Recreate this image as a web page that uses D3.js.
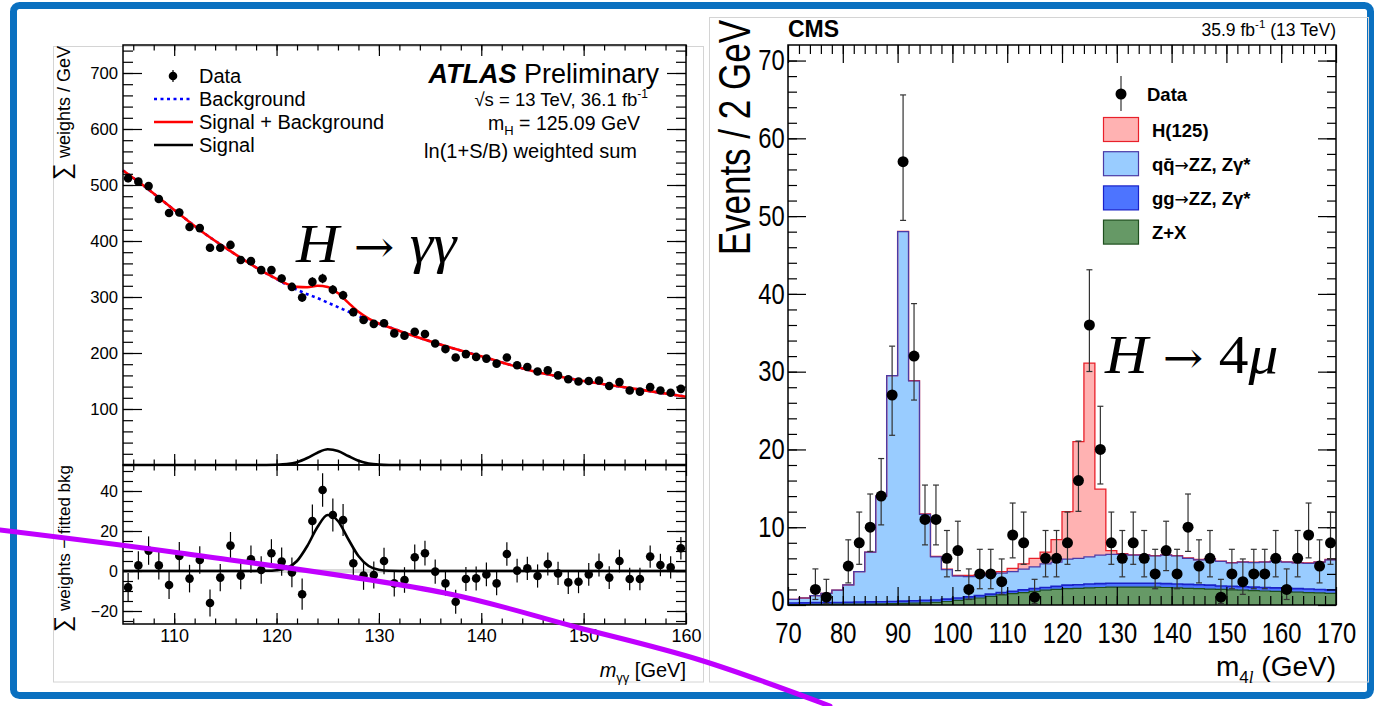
<!DOCTYPE html>
<html>
<head>
<meta charset="utf-8">
<script src="https://cdn.jsdelivr.net/npm/d3@7"></script>
<style>
  html, body { margin: 0; padding: 0; background: #fff; }
  svg { display: block; font-family: "Liberation Sans", Arial, sans-serif; }
</style>
</head>
<body>
<svg id="chart" width="1375" height="706"></svg>
<script>
// ---------- ATLAS H->yy (1 GeV bins, 105-160) ----------
const atlasMass = d3.range(105.5, 160, 1);
const atlasData = [512,506,498,475,450,451,425,423,388,388,393,366,364,348,348,333,318,299,327,333,
  313,303,273,259,252,253,235,231,238,234,217,207,192,198,193,190,181,192,178,175,
  167,169,160,153,149,150,151,141,148,133,131,139,133,129,136];
const atlasErr = [7.2,7.1,7.1,7.0,7.0,7.0,6.9,6.9,6.8,6.8,6.8,6.8,6.8,6.9,7.0,7.1,7.4,7.8,8.2,8.4,
  8.3,8.0,7.5,7.1,6.8,6.6,6.5,6.4,6.3,6.2,6.1,6.1,6.0,6.0,6.0,5.9,5.9,5.9,5.9,5.8,
  5.8,5.8,5.8,5.8,5.7,5.7,5.7,5.7,5.7,5.6,5.6,5.6,5.6,5.6,5.6];
const atlasResid = [-8.2,2.8,10.2,2.8,-7,7.5,-3.8,5.5,-16,-3.3,12.7,-2.3,5.9,0.5,8.9,4.7,-0.7,-11.6,25,40.5,
  28,25.5,3.9,-2.3,-2,5,-6.2,-4.5,6.9,8.9,-0.3,-6.2,-15.4,-4,-3.7,-1.7,-6.2,8.5,0.2,1.3,
  -2.5,3.5,-1.2,-5.7,-5.4,-1.7,3,-3.3,5,-4,-4,7.2,3,1.8,11.4];

// fitted curves
const fitMass = [105,107,109,111,113,115,117,119,120,121,122,123,124,125,126,127,128,129,130,131,133,136,140,145,150,155,160];
const bkgFit  = [526,499,470,441,413,388,364,342,332,322,313,305,298,290,282,274,266,259,252,246,233,215,194,168,150,136,122];
const sigFit  = [0,0,0,0,0,0,0,0.1,0.4,1.5,5,12.5,22,28,25,16,7.5,2.5,0.6,0.1,0,0,0,0,0,0,0];

const atlasXTicks = [110,120,130,140,150,160];
const atlasYTicks = [100,200,300,400,500,600,700];
const residYTicks = [-20,0,20,40];
const atlasLegend = ["Data","Background","Signal + Background","Signal"];

// ---------- CMS H->ZZ->4mu (2 GeV bins, 70-170) ----------
const cmsLowEdge = d3.range(70, 170, 2);
const zxYield = [0.05,0.05,0.07,0.08,0.10,0.10,0.12,0.13,0.15,0.17,0.20,0.23,0.28,0.35,0.45,0.60,0.75,0.90,1.10,1.30,
  1.45,1.60,1.75,1.90,2.00,2.10,2.15,2.20,2.25,2.30,2.30,2.30,2.30,2.30,2.25,2.20,2.15,2.10,2.05,2.00,
  1.95,1.90,1.85,1.80,1.75,1.70,1.65,1.60,1.55,1.50];
const ggYield = [0.20,0.22,0.23,0.22,0.23,0.25,0.26,0.27,0.27,0.28,0.30,0.32,0.32,0.30,0.30,0.30,0.30,0.30,0.30,0.30,
  0.30,0.35,0.35,0.35,0.40,0.45,0.45,0.50,0.50,0.50,0.50,0.50,0.50,0.50,0.50,0.50,0.50,0.50,0.50,0.45,
  0.45,0.45,0.45,0.45,0.45,0.45,0.45,0.45,0.45,0.45];
const qqYield = [0.48,0.63,0.90,1.20,1.57,2.25,3.92,6.40,13.58,29.05,47.5,28.25,11.05,5.55,3.80,2.80,2.60,2.55,2.55,2.50,
  2.55,2.65,2.80,3.05,3.10,3.35,3.40,3.50,3.65,3.70,3.70,3.60,3.60,3.50,3.65,3.60,3.35,3.20,3.35,3.15,
  3.00,3.15,3.15,3.25,3.40,3.35,3.30,3.30,3.50,3.85];
const hYield = [0,0,0,0,0,0,0,0,0,0,0.05,0.05,0.05,0.05,0.05,0.1,0.15,0.15,0.15,0.2,
  0.4,0.7,1.1,1.5,2.9,6.1,15.0,24.9,8.5,0.5,0.1,0.05,0.05,0.05,0.05,0.05,0.05,0.05,0.05,0.05,
  0.05,0.05,0.05,0.05,0.05,0.05,0.05,0.05,0.05,0.05];

const cmsDataMass = [75,77,81,83,85,87,89,91,93,95,97,99,101,103,105,107,109,111,113,115,117,119,121,123,125,127,
  129,131,133,135,137,139,141,143,145,147,149,151,153,155,157,159,161,163,165,167,169];
const cmsCount = [2,1,5,8,10,14,27,57,32,11,11,6,7,2,4,4,3,9,8,1,6,6,8,16,36,20,8,6,8,6,4,7,4,10,5,6,1,4,3,4,4,6,2,6,9,5,8];
const cmsErrLo = [1.29,0.83,2.16,2.77,3.11,3.7,5.18,7.55,5.65,3.27,3.27,2.38,2.58,1.29,1.91,1.91,1.63,2.94,2.77,0.83,
  2.38,2.38,2.77,3.96,5.98,4.44,2.77,2.38,2.77,2.38,1.91,2.58,1.91,3.11,2.16,2.38,0.83,1.91,1.63,1.91,1.91,2.38,
  1.29,2.38,2.94,2.16,2.77];
const cmsErrHi = [2.64,2.30,3.38,3.95,4.27,4.83,6.28,8.58,6.75,4.42,4.42,3.58,3.77,2.64,3.16,3.16,2.92,4.11,3.95,2.30,
  3.58,3.58,3.95,5.08,7.10,5.55,3.95,3.58,3.95,3.58,3.16,3.77,3.16,4.27,3.38,3.58,2.30,3.16,2.92,3.16,3.16,3.58,
  2.64,3.58,4.11,3.38,3.95];
const cmsXTicks = [70,80,90,100,110,120,130,140,150,160,170];
const cmsYTicks = [0,10,20,30,40,50,60,70];
// legend labels split as [before arrow, after arrow]
const cmsLegend = [["H(125)", ""], ["qq\u0304", "ZZ, Z\u03b3*"], ["gg", "ZZ, Z\u03b3*"], ["Z+X", ""]];

const cmsStyle = {
  zx: { fill: "#669966", line: "#1f4f1f", w: 1.2 },
  gg: { fill: "#4d74ff", line: "#1a22c8", w: 1.6 },
  qq: { fill: "#99ccff", line: "#4b3aa6", w: 1.2 },
  h:  { fill: "#ffb2b2", line: "#e8202a", w: 1.3 }
};

const svg = d3.select("#chart");

// slide frame and pasted image borders
svg.append("rect").attr("x", 13.5).attr("y", 5.5).attr("width", 1357).attr("height", 690)
  .attr("rx", 6).attr("fill", "none").attr("stroke", "#0a70c0").attr("stroke-width", 7);
svg.append("rect").attr("x", 53.5).attr("y", 46.5).attr("width", 650).attr("height", 635.5)
  .attr("fill", "none").attr("stroke", "#d4d4d4");
svg.append("rect").attr("x", 709.5).attr("y", 17.5).attr("width", 659).attr("height", 664.5)
  .attr("fill", "none").attr("stroke", "#d4d4d4");

// ROOT style ticks: inside the frame, on all four sides
function rootTicks(g, scale, orient, at, major, minor, majLen, minLen, fmt, size, pad, sx) {
  const make = { bottom: d3.axisBottom, top: d3.axisTop, left: d3.axisLeft, right: d3.axisRight }[orient];
  const tr = (orient == "bottom" || orient == "top") ? `translate(0,${at})` : `translate(${at},0)`;
  g.append("g").attr("transform", tr)
    .call(make(scale).tickValues(minor).tickSize(-minLen).tickFormat(""))
    .call(a => a.select(".domain").remove())
    .selectAll("line").attr("stroke", "#000").attr("stroke-width", 1.2);
  const a = g.append("g").attr("transform", tr)
    .call(make(scale).tickValues(major).tickSize(-majLen).tickPadding(pad || 4).tickFormat(fmt || ""))
    .call(a => a.select(".domain").remove());
  a.selectAll("line").attr("stroke", "#000").attr("stroke-width", 1.2);
  a.attr("font-family", null).attr("font-size", null);
  a.selectAll("text").attr("fill", "#000").attr("font-size", size || 16)
    .attr("transform", `scale(${sx || 1},1)`);
  return a;
}

// ================= ATLAS =================
const A = svg.append("g");
const ax = d3.scaleLinear().domain([105, 160]).range([123, 686]);
const ayMain = d3.scaleLinear().domain([0, 750]).range([465, 45]);
const ayRes = d3.scaleLinear().domain([-26.5, 53]).range([624, 465]);
const fitPts = fitMass.map((m, i) => ({ m: m, b: bkgFit[i], s: sigFit[i] }));

// main panel
A.append("path").datum(fitPts)
  .attr("d", d3.line().x(d => ax(d.m)).y(d => ayMain(d.b)).curve(d3.curveMonotoneX))
  .attr("fill", "none").attr("stroke", "#0000ff").attr("stroke-width", 2.6).attr("stroke-dasharray", "3,3.5");
A.append("path").datum(fitPts)
  .attr("d", d3.line().x(d => ax(d.m)).y(d => ayMain(d.b + d.s)).curve(d3.curveMonotoneX))
  .attr("fill", "none").attr("stroke", "#ff0000").attr("stroke-width", 2.6);
A.append("path").datum(fitPts)
  .attr("d", d3.line().x(d => ax(d.m)).y(d => ayMain(d.s)).curve(d3.curveMonotoneX))
  .attr("fill", "none").attr("stroke", "#000").attr("stroke-width", 2.6);

A.selectAll(".aerr").data(atlasMass).join("line")
  .attr("x1", d => ax(d)).attr("x2", d => ax(d))
  .attr("y1", (d, i) => ayMain(atlasData[i] - atlasErr[i])).attr("y2", (d, i) => ayMain(atlasData[i] + atlasErr[i]))
  .attr("stroke", "#000").attr("stroke-width", 1.2);
A.selectAll(".apt").data(atlasMass).join("circle")
  .attr("cx", d => ax(d)).attr("cy", (d, i) => ayMain(atlasData[i])).attr("r", 4.3).attr("fill", "#000");

A.append("rect").attr("x", 123).attr("y", 45).attr("width", 563).attr("height", 420)
  .attr("fill", "none").attr("stroke", "#000").attr("stroke-width", 1.5);
rootTicks(A, ax, "bottom", 465, atlasXTicks, d3.range(106, 160, 2), 11, 5.5);
rootTicks(A, ax, "top", 45, atlasXTicks, d3.range(106, 160, 2), 11, 5.5);
rootTicks(A, ayMain, "left", 123, atlasYTicks, d3.range(20, 750, 20), 19, 10, d3.format("d"), 16.7, 5);
rootTicks(A, ayMain, "right", 686, atlasYTicks, d3.range(20, 750, 20), 19, 10);

// residual panel
A.append("rect").attr("x", 123).attr("y", ayRes(1)).attr("width", 563).attr("height", ayRes(-1) - ayRes(1))
  .attr("fill", "#d8d8d8");
A.append("path").datum(fitPts)
  .attr("d", d3.line().x(d => ax(d.m)).y(d => ayRes(d.s)).curve(d3.curveMonotoneX))
  .attr("fill", "none").attr("stroke", "#000").attr("stroke-width", 2.6);
A.selectAll(".rerr").data(atlasMass).join("line")
  .attr("x1", d => ax(d)).attr("x2", d => ax(d))
  .attr("y1", (d, i) => ayRes(atlasResid[i] - atlasErr[i])).attr("y2", (d, i) => ayRes(atlasResid[i] + atlasErr[i]))
  .attr("stroke", "#000").attr("stroke-width", 1.2);
A.selectAll(".rpt").data(atlasMass).join("circle")
  .attr("cx", d => ax(d)).attr("cy", (d, i) => ayRes(atlasResid[i])).attr("r", 4.3).attr("fill", "#000");

A.append("rect").attr("x", 123).attr("y", 465).attr("width", 563).attr("height", 159)
  .attr("fill", "none").attr("stroke", "#000").attr("stroke-width", 1.5);
rootTicks(A, ax, "bottom", 624, atlasXTicks, d3.range(106, 160, 2), 11, 5.5, d3.format("d"), 18, 5);
rootTicks(A, ax, "top", 465, atlasXTicks, d3.range(106, 160, 2), 11, 5.5);
rootTicks(A, ayRes, "left", 123, residYTicks, d3.range(-25, 53, 5), 19, 10, d3.format("d"), 16, 5);
rootTicks(A, ayRes, "right", 686, residYTicks, d3.range(-25, 53, 5), 19, 10);

// axis titles
const ayt = A.append("text").attr("transform", "translate(70,46) rotate(-90)")
  .attr("text-anchor", "end").attr("font-size", 18);
ayt.append("tspan").attr("font-size", 24).text("\u2211");
ayt.append("tspan").text(" weights / GeV");
const ryt = A.append("text").attr("transform", "translate(70,465) rotate(-90)")
  .attr("text-anchor", "end").attr("font-size", 17);
ryt.append("tspan").attr("font-size", 23).text("\u2211");
ryt.append("tspan").text(" weights \u2212 fitted bkg");
const axt = A.append("text").attr("x", 686).attr("y", 677).attr("text-anchor", "end").attr("font-size", 20);
axt.append("tspan").attr("font-style", "italic").text("m");
axt.append("tspan").attr("font-size", 13).attr("dy", 5).text("\u03b3\u03b3");
axt.append("tspan").attr("dy", -5).text(" [GeV]");

// legend
const aleg = A.append("g").attr("font-size", 20);
atlasLegend.forEach((name, i) => {
  const y = 76 + i * 23;
  if (i == 0) {
    aleg.append("line").attr("x1", 173).attr("x2", 173).attr("y1", y - 6).attr("y2", y + 6)
      .attr("stroke", "#000").attr("stroke-width", 1.2);
    aleg.append("circle").attr("cx", 173).attr("cy", y).attr("r", 4.3).attr("fill", "#000");
  } else {
    aleg.append("line").attr("x1", 154).attr("x2", 193).attr("y1", y).attr("y2", y)
      .attr("stroke", ["#0000ff", "#ff0000", "#000"][i - 1]).attr("stroke-width", 2.6)
      .attr("stroke-dasharray", i == 1 ? "3,3.5" : null);
  }
  aleg.append("text").attr("x", 199).attr("y", y + 7).text(name);
});

const atl = A.append("text").attr("x", 659).attr("y", 83).attr("text-anchor", "end").attr("font-size", 27);
atl.append("tspan").attr("font-weight", "bold").attr("font-style", "italic").text("ATLAS");
atl.append("tspan").text(" Preliminary");
const sq = A.append("text").attr("x", 648).attr("y", 106).attr("text-anchor", "end").attr("font-size", 18.5);
sq.append("tspan").text("\u221as = 13 TeV, 36.1 fb");
sq.append("tspan").attr("font-size", 12).attr("dy", -8).text("-1");
const mh = A.append("text").attr("x", 640).attr("y", 130).attr("text-anchor", "end").attr("font-size", 19.5);
mh.append("tspan").text("m");
mh.append("tspan").attr("font-size", 13).attr("dy", 5).text("H");
mh.append("tspan").attr("dy", -5).text(" = 125.09 GeV");
A.append("text").attr("x", 637).attr("y", 158).attr("text-anchor", "end").attr("font-size", 20)
  .text("ln(1+S/B) weighted sum");

// slide annotation
const hy = A.append("text").attr("transform", "translate(296,262) scale(1.1,1)").attr("font-size", 54)
  .attr("font-family", "'Liberation Serif', serif");
hy.append("tspan").attr("font-style", "italic").text("H ");
hy.append("tspan").attr("font-family", "'DejaVu Serif', serif").attr("font-size", 44).text("\u2192 ");
hy.append("tspan").attr("font-style", "italic").text("\u03b3\u03b3");

// ================= CMS =================
const C = svg.append("g");
const cx = d3.scaleLinear().domain([70, 170]).range([788, 1336]);
const cy = d3.scaleLinear().domain([0, 72]).range([605, 45]);

const rows = cmsLowEdge.map((m, i) => ({ m: m, zx: zxYield[i], gg: ggYield[i], qq: qqYield[i], h: hYield[i] }));
rows.push(Object.assign({}, rows[rows.length - 1], { m: 170 }));
const layers = d3.stack().keys(["zx", "gg", "qq", "h"])(rows);

C.selectAll(".layer").data(layers).join("path")
  .attr("d", d3.area().x(d => cx(d.data.m)).y0(d => cy(d[0])).y1(d => cy(d[1])).curve(d3.curveStepAfter))
  .attr("fill", d => cmsStyle[d.key].fill);
// ROOT draws the top of the stack first, so lower outlines sit on top
C.selectAll(".outline").data(layers.slice().reverse()).join("path")
  .attr("d", d3.line().x(d => cx(d.data.m)).y(d => cy(d[1])).curve(d3.curveStepAfter))
  .attr("fill", "none").attr("stroke", d => cmsStyle[d.key].line).attr("stroke-width", d => cmsStyle[d.key].w);

C.append("rect").attr("x", 788).attr("y", 45).attr("width", 548).attr("height", 560)
  .attr("fill", "none").attr("stroke", "#000").attr("stroke-width", 1.5);
rootTicks(C, cx, "bottom", 605, cmsXTicks, d3.range(72, 170, 2), 18, 9, d3.format("d"), 29, 17, 0.82);
rootTicks(C, cx, "top", 45, cmsXTicks, d3.range(72, 170, 2), 18, 9);
const cyl = rootTicks(C, cy, "left", 788, cmsYTicks, d3.range(2, 72, 2), 18, 9, d3.format("d"), 29, 4, 0.82);
cyl.selectAll("text").filter(d => d == 0).attr("dy", "0.2em");
rootTicks(C, cy, "right", 1336, cmsYTicks, d3.range(2, 72, 2), 18, 9);

// data with Poisson error bars
const eb = C.selectAll(".cerr").data(cmsDataMass).join("g").attr("stroke", "#333").attr("stroke-width", 1.2);
eb.append("line").attr("x1", d => cx(d)).attr("x2", d => cx(d))
  .attr("y1", (d, i) => cy(cmsCount[i] - cmsErrLo[i])).attr("y2", (d, i) => cy(cmsCount[i] + cmsErrHi[i]));
eb.append("line").attr("x1", d => cx(d) - 3).attr("x2", d => cx(d) + 3)
  .attr("y1", (d, i) => cy(cmsCount[i] - cmsErrLo[i])).attr("y2", (d, i) => cy(cmsCount[i] - cmsErrLo[i]));
eb.append("line").attr("x1", d => cx(d) - 3).attr("x2", d => cx(d) + 3)
  .attr("y1", (d, i) => cy(cmsCount[i] + cmsErrHi[i])).attr("y2", (d, i) => cy(cmsCount[i] + cmsErrHi[i]));
C.selectAll(".cpt").data(cmsDataMass).join("circle")
  .attr("cx", d => cx(d)).attr("cy", (d, i) => cy(cmsCount[i])).attr("r", 5.5).attr("fill", "#000");

// titles
C.append("text").attr("x", 788).attr("y", 37).attr("font-size", 23).attr("font-weight", "bold").text("CMS");
const lumi = C.append("text").attr("x", 1336).attr("y", 36).attr("text-anchor", "end").attr("font-size", 17.5);
lumi.append("tspan").text("35.9 fb");
lumi.append("tspan").attr("font-size", 11.5).attr("dy", -8).text("-1");
lumi.append("tspan").attr("dy", 8).text(" (13 TeV)");
C.append("text").attr("transform", "translate(750,20) scale(1.25,1) rotate(-90)")
  .attr("text-anchor", "end").attr("font-size", 35).text("Events / 2 GeV");
const cxt = C.append("text").attr("x", 1336).attr("y", 676).attr("text-anchor", "end").attr("font-size", 28);
cxt.append("tspan").text("m");
cxt.append("tspan").attr("font-size", 17).attr("dy", 7).text("4");
cxt.append("tspan").attr("font-size", 17).attr("font-style", "italic").attr("font-family", "'Liberation Serif', serif").text("l");
cxt.append("tspan").attr("dy", -7).text(" (GeV)");

// legend
const cleg = C.append("g").attr("font-size", 18.5).attr("font-weight", "bold");
cleg.append("line").attr("x1", 1121).attr("x2", 1121).attr("y1", 76).attr("y2", 111)
  .attr("stroke", "#333").attr("stroke-width", 1.2);
cleg.append("circle").attr("cx", 1121).attr("cy", 94).attr("r", 5.5).attr("fill", "#000");
cleg.append("text").attr("x", 1147).attr("y", 101).text("Data");
["h", "qq", "gg", "zx"].forEach((k, i) => {
  const y = 117.5 + i * 34.2;
  cleg.append("rect").attr("x", 1103.5).attr("y", y).attr("width", 35).attr("height", 24)
    .attr("fill", cmsStyle[k].fill).attr("stroke", cmsStyle[k].line).attr("stroke-width", 1.2);
  const t = cleg.append("text").attr("x", 1152).attr("y", y + 19);
  t.append("tspan").text(cmsLegend[i][0]);
  if (cmsLegend[i][1]) {
    t.append("tspan").attr("font-family", "'DejaVu Sans', sans-serif").attr("font-weight", "normal")
      .attr("font-size", 17).text("\u2192");
    t.append("tspan").text(cmsLegend[i][1]);
  }
});

const h4 = C.append("text").attr("transform", "translate(1105,373) scale(1.1,1)").attr("font-size", 54)
  .attr("font-family", "'Liberation Serif', serif");
h4.append("tspan").attr("font-style", "italic").text("H ");
h4.append("tspan").attr("font-family", "'DejaVu Serif', serif").attr("font-size", 44).text("\u2192 ");
h4.append("tspan").text("4");
h4.append("tspan").attr("font-style", "italic").text("\u03bc");

// hand-drawn purple stroke over the slide
const strokePts = [[0, 530], [180, 553], [445, 593], [576, 627], [700, 660], [830, 706]];
svg.append("path").attr("d", d3.line().curve(d3.curveCatmullRom)(strokePts))
  .attr("fill", "none").attr("stroke", "#c000ff").attr("stroke-width", 5).attr("stroke-linecap", "round");
</script>
</body>
</html>
